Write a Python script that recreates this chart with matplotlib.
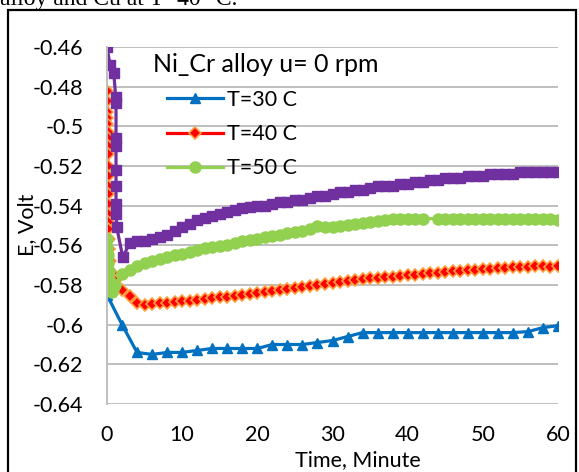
import matplotlib
matplotlib.use("Agg")
import matplotlib.pyplot as plt
from matplotlib.patches import Rectangle

# time (min) and potential (V) for each run
t30 = [0, 2, 4, 6, 8, 10, 12, 14, 16, 18, 20, 22, 24, 26, 28, 30,
       32, 34, 36, 38, 40, 42, 44, 46, 48, 50, 52, 54, 56, 58, 60]
e30 = [-0.585, -0.600, -0.614, -0.615, -0.614, -0.614, -0.613, -0.612,
       -0.612, -0.612, -0.612, -0.610, -0.610, -0.610, -0.609, -0.608,
       -0.606, -0.604, -0.604, -0.604, -0.604, -0.604, -0.604, -0.604,
       -0.604, -0.604, -0.604, -0.604, -0.6035, -0.6015, -0.6005]

t40 = [0, 0.02, 0.04, 0.05, 0.06, 0.08, 0.09, 0.1, 0.11, 0.12, 0.13, 0.14,
       0.15, 0.16, 0.17, 0.18, 0.19, 0.2, 0.22, 0.4, 0.6, 1.0, 1.5,
       2, 3, 4, 5, 6, 7, 8, 9, 10, 11, 12, 13, 14, 15, 16, 17, 18, 19, 20,
       21, 22, 23, 24, 25, 26, 27, 28, 29, 30, 31, 32, 33, 34, 35, 36, 37,
       38, 39, 40, 41, 42, 43, 44, 45, 46, 47, 48, 49, 50, 51, 52, 53, 54,
       55, 56, 57, 58, 59, 60]
e40 = [-0.482, -0.487, -0.493, -0.496, -0.499, -0.503, -0.506, -0.510,
       -0.514, -0.520, -0.525, -0.530, -0.534, -0.539, -0.544, -0.548,
       -0.552, -0.557, -0.562, -0.568, -0.574, -0.578, -0.581,
       -0.5825, -0.5855, -0.589, -0.590, -0.5895, -0.589, -0.589, -0.5885,
       -0.588, -0.588, -0.5875, -0.587, -0.5865, -0.586, -0.586, -0.5855,
       -0.585, -0.5845, -0.584, -0.5835, -0.583, -0.5825, -0.582, -0.5815,
       -0.581, -0.5805, -0.580, -0.5795, -0.579, -0.5785, -0.578, -0.5775,
       -0.577, -0.5765, -0.5763, -0.576, -0.5758, -0.5755, -0.575, -0.5748,
       -0.5745, -0.574, -0.5737, -0.5735, -0.573, -0.5728, -0.5725, -0.5722,
       -0.572, -0.5718, -0.5715, -0.5713, -0.571, -0.571, -0.5708, -0.5705,
       -0.5705, -0.571, -0.5705]

t50 = [0, 0.05, 0.1, 0.15, 0.2, 0.25, 0.3, 0.4, 0.6, 0.8,
       1, 2, 3, 4, 5, 6, 7, 8, 9, 10, 11, 12, 13, 14, 15, 16, 17, 18, 19,
       20, 21, 22, 23, 24, 25, 26, 27, 28, 29, 30, 31, 32, 33, 34, 35, 36,
       37, 38, 39, 40, 41, 42, 44, 45, 46, 47, 48, 49, 50, 51, 52, 53, 54,
       55, 56, 57, 58, 59, 60]
e50 = [-0.557, -0.561, -0.565, -0.569, -0.573, -0.577, -0.580, -0.583,
       -0.5835, -0.582,
       -0.580, -0.5745, -0.5725, -0.5705, -0.569, -0.568, -0.567, -0.566,
       -0.565, -0.5645, -0.5635, -0.5625, -0.5615, -0.561, -0.5605, -0.560,
       -0.559, -0.558, -0.5575, -0.557, -0.556, -0.5555, -0.555, -0.554,
       -0.5535, -0.553, -0.552, -0.5505, -0.551, -0.551, -0.550, -0.5495,
       -0.549, -0.5485, -0.548, -0.5475, -0.547, -0.5468, -0.5466, -0.5465,
       -0.5465, -0.5465, -0.5465, -0.5465, -0.5465, -0.5465, -0.5465, -0.5465,
       -0.5465, -0.5465, -0.5465, -0.5465, -0.5465, -0.5465, -0.5465,
       -0.5465, -0.5465, -0.5465, -0.547]

t60 = [0, 0.4, 0.9, 1.15, 1.2, 1.2, 1.2, 1.2, 1.2, 1.2, 1.2, 1.3, 2.1,
       3, 4, 5, 6, 7, 8, 9, 10, 11, 12, 13, 14, 15, 16, 17, 18, 19, 20,
       21, 22, 23, 24, 25, 26, 27, 28, 29, 30, 31, 32, 33, 34, 35, 36, 37,
       38, 39, 40, 41, 42, 43, 44, 45, 46, 47, 48, 49, 50, 51, 52, 53, 54,
       55, 56, 57, 58, 59, 60]
e60 = [-0.460, -0.469, -0.473, -0.485, -0.488, -0.506, -0.510, -0.522,
       -0.530, -0.539, -0.544, -0.551, -0.566,
       -0.559, -0.558, -0.558, -0.557, -0.556, -0.555, -0.553, -0.551,
       -0.549, -0.547, -0.546, -0.545, -0.544, -0.543, -0.542, -0.541,
       -0.5405, -0.540, -0.540, -0.539, -0.538, -0.538, -0.537, -0.537,
       -0.536, -0.535, -0.535, -0.534, -0.533, -0.533, -0.532, -0.532,
       -0.531, -0.530, -0.530, -0.530, -0.529, -0.529, -0.528, -0.528,
       -0.527, -0.527, -0.526, -0.526, -0.526, -0.525, -0.525, -0.525,
       -0.524, -0.524, -0.524, -0.524, -0.523, -0.523, -0.523, -0.523,
       -0.523, -0.523]

xticks = [0, 10, 20, 30, 40, 50, 60]
yticks = [-0.64, -0.62, -0.6, -0.58, -0.56, -0.54, -0.52, -0.5, -0.48, -0.46]
ytick_labels = ["-0.64", "-0.62", "-0.6", "-0.58", "-0.56", "-0.54",
                "-0.52", "-0.5", "-0.48", "-0.46"]

plt.rcParams['font.family'] = ['Lato', 'DejaVu Sans']

W, H = 579, 472
fig = plt.figure(figsize=(W / 100, H / 100), dpi=100)
ax = fig.add_axes([107 / W, (H - 404) / H, 451 / W, 357 / H])

ax.plot(t30, e30, color='#0070C0', lw=2.3, marker='^', ms=7.5,
        label='T=30 C')
ax.plot(t40, e40, color='#FF0000', lw=2.3, marker='D', ms=6.5,
        mfc='#FF0000', mec='#FFA040', mew=1.2, label='T=40 C')
ax.plot(t50, e50, color='#92D050', lw=2.3, marker='o', ms=8,
        label='T=50 C')
ax.plot(t60, e60, color='#7030A0', lw=2.3, marker='s', ms=7)

ax.set_xlim(0, 60)
ax.set_ylim(-0.64, -0.46)
ax.set_xticks(xticks)
ax.set_yticks(yticks)
ax.set_yticklabels(ytick_labels)
ax.tick_params(length=0, labelsize=15.5)
ax.tick_params(axis='y', pad=17)
ax.tick_params(axis='x', pad=15)
ax.grid(axis='y', color='#BFBFBF', lw=1.4)
ax.set_axisbelow(True)
for s in ['top', 'right', 'bottom']:
    ax.spines[s].set_visible(False)
ax.spines['left'].set_color('#BFBFBF')
ax.spines['left'].set_linewidth(1.4)

fig.text(358 / W, 1 - 460 / H, 'Time, Minute', ha='center', va='center',
         fontsize=15.5)
fig.text(27 / W, 1 - 225 / H, 'E, Volt', ha='center', va='center',
         rotation=90, fontsize=15.5)

# legend title and entries
fig.text(153 / W, 1 - 65 / H, 'Ni_Cr alloy u= 0 rpm', ha='left',
         va='center', fontsize=18)
ax.legend(loc='upper left', bbox_to_anchor=(167 / W, 1 - 90 / H),
          bbox_transform=fig.transFigure, frameon=False, fontsize=15.5,
          borderpad=0, handlelength=2.6, handletextpad=0.2,
          labelspacing=0.66, borderaxespad=0)

# chart frame and page text above it
fig.patches.append(Rectangle((8 / W, -0.05), 568 / W, 1 - 10 / H + 0.05,
                             transform=fig.transFigure, fill=False,
                             ec='black', lw=1.6))
fig.text(0, 1 - 5 / H, 'alloy and Cu at T=40 °C.', ha='left',
         va='baseline', fontsize=17, family='Liberation Serif')

fig.savefig('out.png', dpi=100)
